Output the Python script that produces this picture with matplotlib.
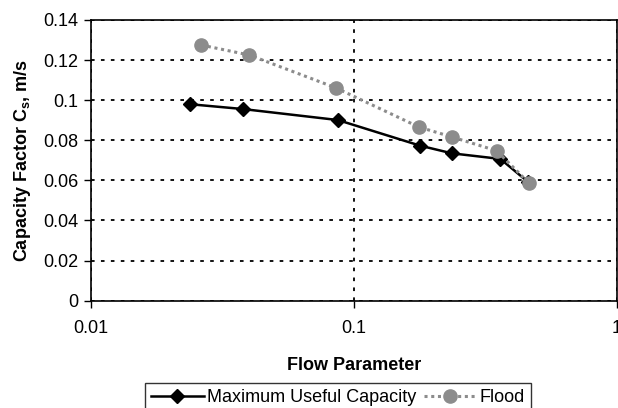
import matplotlib
matplotlib.use("Agg")
import matplotlib.pyplot as plt
from matplotlib.ticker import FixedLocator, FixedFormatter, NullLocator

plt.rcParams['font.family'] = ['Liberation Sans', 'DejaVu Sans']
plt.rcParams['mathtext.fontset'] = 'custom'
plt.rcParams['mathtext.rm'] = 'Liberation Sans'
plt.rcParams['mathtext.bf'] = 'Liberation Sans:bold'

# data
muc_x = [0.0238, 0.0378, 0.087, 0.179, 0.236, 0.361, 0.459]
muc_y = [0.098, 0.0956, 0.0901, 0.0773, 0.0735, 0.0707, 0.0593]
flood_x = [0.0263, 0.0401, 0.0853, 0.177, 0.237, 0.349, 0.462]
flood_y = [0.1275, 0.1225, 0.1062, 0.0866, 0.0816, 0.0748, 0.0589]

x_ticks = [0.01, 0.1, 1]
x_labels = ["0.01", "0.1", "1"]
y_ticks = [0, 0.02, 0.04, 0.06, 0.08, 0.1, 0.12, 0.14]
y_labels = ["0", "0.02", "0.04", "0.06", "0.08", "0.1", "0.12", "0.14"]

fs = 13

fig = plt.figure(figsize=(6.18, 4.08), dpi=100)
ax = fig.add_axes([0.147, 0.263, 0.851, 0.688])

ax.plot(muc_x, muc_y, color='black', lw=1.8, marker='D', ms=7.5,
        label='Maximum Useful Capacity', zorder=3)
ax.plot(flood_x, flood_y, color='#8c8c8c', lw=2.2, ls=(0, (1, 1.2)), marker='o',
        ms=9.5, label='Flood', zorder=4)

ax.set_xscale('log')
ax.set_xlim(0.01, 1)
ax.set_ylim(0, 0.14)
ax.xaxis.set_major_locator(FixedLocator(x_ticks))
ax.xaxis.set_major_formatter(FixedFormatter(x_labels))
ax.xaxis.set_minor_locator(NullLocator())
ax.yaxis.set_major_locator(FixedLocator(y_ticks))
ax.yaxis.set_major_formatter(FixedFormatter(y_labels))

ax.grid(True, color='black', ls=(0, (2, 3.5)), lw=1.3)
ax.set_axisbelow(True)
ax.tick_params(direction='out', length=5, width=1, labelsize=fs, colors='black')
ax.tick_params(axis='y', pad=4)
ax.tick_params(axis='x', pad=9)
for s in ax.spines.values():
    s.set_linewidth(1.2)

ax.set_xlabel('Flow Parameter', fontsize=fs, fontweight='bold', labelpad=14)
ax.set_ylabel(r'Capacity Factor C$_\mathbf{s}$, m/s', fontsize=fs,
              fontweight='bold', labelpad=7)

leg = fig.legend(loc='upper center', bbox_to_anchor=(0.547, 0.061), ncol=2,
                 fontsize=fs, frameon=True, fancybox=False, handlelength=2.9,
                 columnspacing=0.4, handletextpad=0.2, borderpad=0.35,
                 borderaxespad=0)
leg.get_frame().set_edgecolor('black')
leg.get_frame().set_linewidth(1.0)

fig.savefig('out.png', dpi=100)
